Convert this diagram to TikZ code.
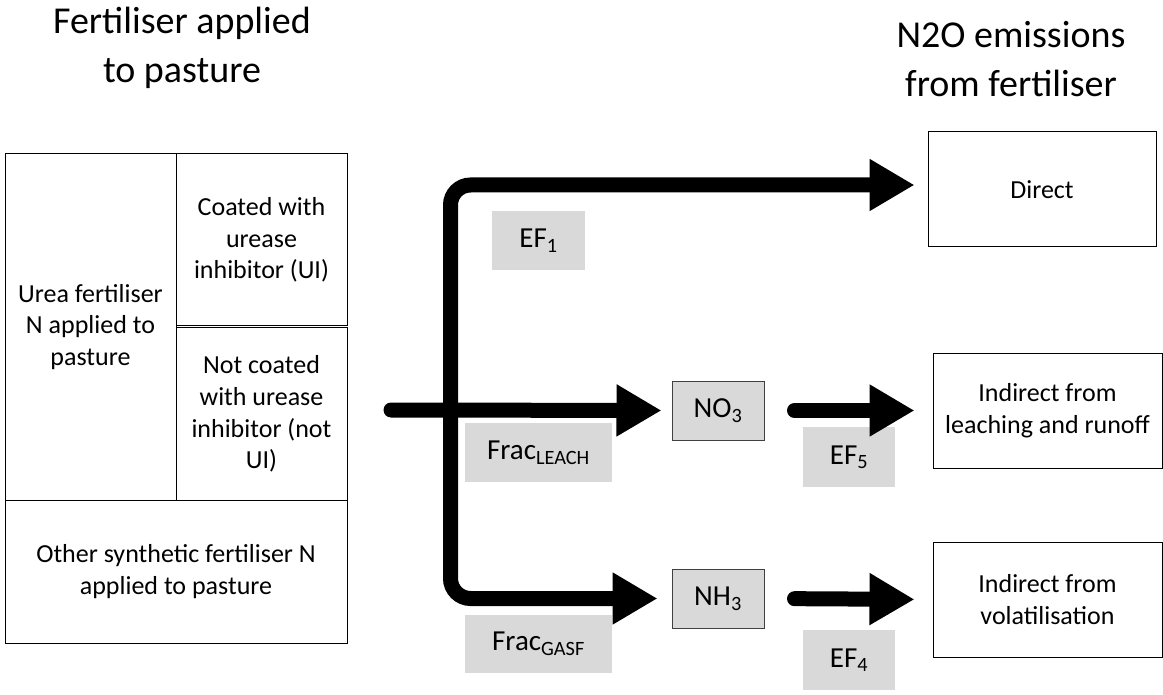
\documentclass[tikz,border=0pt]{standalone}
\usepackage{fontspec}
\setmainfont{Carlito}
\usepackage{xcolor}
\usepackage{tikz}
\usetikzlibrary{positioning,arrows.meta}

\tikzset{
  box/.style={draw, line width=1pt, align=center, inner sep=0pt, font=\fontsize{26}{31.7}\selectfont},
  tag/.style={fill=black!15, inner sep=0pt, font=\fontsize{29}{34}\selectfont},
  chem/.style={tag, draw=black!75, line width=1pt},
  ttl/.style={align=center, font=\fontsize{38}{49}\selectfont},
  flow/.style={line width=15pt, -{Triangle[length=45pt,width=49pt]}},
}

\begin{document}
\begin{tikzpicture}[x=1pt,y=-1pt]
\useasboundingbox (0,0) rectangle (1163,695);

% Titles
\node[ttl] (ttlL) at (182,48) {Fertiliser applied\\to pasture};
\node[ttl] (ttlR) at (1011,59) {N2O emissions\\from fertiliser};

% Fertiliser types
\node[box, minimum width=171pt, minimum height=346pt] (urea) at (90.5,327) {Urea fertiliser\\N applied to\\pasture};
\node[box, minimum width=171pt, minimum height=172pt] (ui) at (261.5,240) {Coated with\\urease\\inhibitor (UI)};
\node[box, minimum width=171pt, minimum height=172pt] (notui) at (261.5,414) {Not coated\\with urease\\inhibitor (not\\UI)};
\node[box, minimum width=342pt, minimum height=143pt] (other) at (176,571.5) {Other synthetic fertiliser N\\applied to pasture};

% Emissions
\node[box, minimum width=228pt, minimum height=115pt] (direct) at (1042,189.5) {Direct};
\node[box, minimum width=229pt, minimum height=115pt] (leach) at (1047.5,410.5) {Indirect from\\leaching and runoff};
\node[box, minimum width=229pt, minimum height=115pt] (volat) at (1047.5,599.5) {Indirect from\\volatilisation};

% Intermediate species
\node[chem, minimum width=92pt, minimum height=59pt] (no3) at (718,410.5) {NO\textsubscript{3}};
\node[chem, minimum width=92pt, minimum height=59pt] (nh3) at (718,598.5) {NH\textsubscript{3}};

% Factors
\node[tag, minimum width=93pt, minimum height=59pt] (ef1) at (538.5,240.5) {EF\textsubscript{1}};
\node[tag, minimum width=147pt, minimum height=59pt] (fleach) at (538.5,452.5) {Frac\textsubscript{LEACH}};
\node[tag, minimum width=147pt, minimum height=58pt] (fgasf) at (538.5,644) {Frac\textsubscript{GASF}};
\node[tag, minimum width=92pt, minimum height=60pt] (ef5) at (849,457) {EF\textsubscript{5}};
\node[tag, minimum width=92pt, minimum height=60pt] (ef4) at (849,660) {EF\textsubscript{4}};

% Flows
\coordinate (jn) at (450.5,400);
\coordinate (in) at (391,410);
\draw[flow, rounded corners=20pt, shorten >=13pt] (jn) |- ([yshift=4.5pt]direct.west);
\draw[flow, rounded corners=20pt, shorten >=14pt] (jn) |- (nh3.west);
\draw[flow, line cap=round, shorten >=10pt] (in) -- (no3.west);
\draw[flow, line cap=round, shorten <=30pt, shorten >=18pt] (no3.east) -- (leach.west);
\draw[flow, line cap=round, shorten <=30pt, shorten >=18pt] (nh3.east) -- (volat.west);
\end{tikzpicture}
\end{document}
